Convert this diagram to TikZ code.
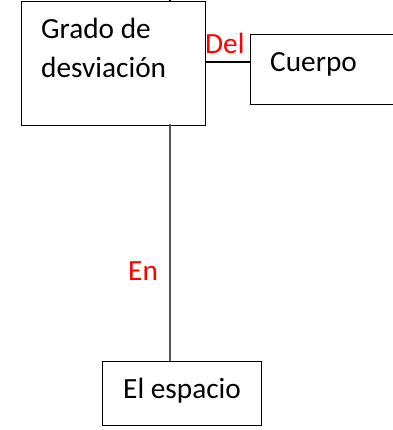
\documentclass[tikz,border=0pt]{standalone}
\usepackage{fontspec}
\setmainfont{Carlito}
\begin{document}
\begin{tikzpicture}[x=1pt,y=-1pt,
  boxst/.style={draw=black,line width=1.2pt,fill=white,rectangle,inner sep=0pt},
  txt/.style={inner sep=0pt,anchor=base west,font=\fontsize{29.3}{39}\selectfont},
  rel/.style={txt,text={rgb,255:red,255;green,0;blue,0}},
  conn/.style={line width=1.1pt}]
\useasboundingbox (0,0) rectangle (392,430);
\coordinate (vx) at (170,0);
\coordinate (hy) at (0,62);
% boxes
\node[boxst,minimum width=184pt,minimum height=124pt,anchor=north west] (grado) at (20.5,1) {};
\node[boxst,minimum width=160pt,minimum height=70pt,anchor=north west] (cuerpo) at (250,34) {};
\node[boxst,minimum width=159pt,minimum height=64pt,anchor=north west] (espacio) at (102,361) {};
% connectors
\draw[conn] (grado.east |- hy) -- (cuerpo.west |- hy);
\draw[conn,draw={rgb,255:red,85;green,85;blue,85}] ([yshift=2pt]grado.south -| vx) -- (espacio.north -| vx);
\draw[conn] (grado.north -| vx) -- ++(0,-3);
% texts
\node[txt] (t1) at (41,39) {Grado de};
\node[txt] (t2) at (41,78) {desviación};
\node[txt] (t3) at (270,72) {Cuerpo};
\node[txt] (t4) at (123,398) {El espacio};
\node[rel] (del) at (205,54) {Del};
\node[rel] (en) at (128,280) {En};
\end{tikzpicture}
\end{document}
